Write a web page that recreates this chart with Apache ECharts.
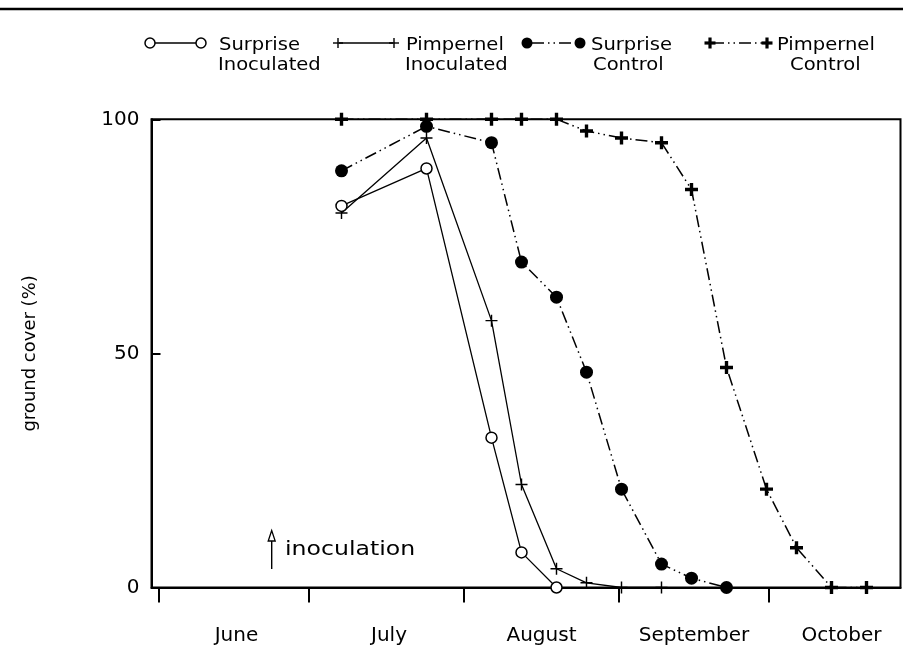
<!DOCTYPE html>
<html>
<head>
<meta charset="utf-8">
<script src="https://cdn.jsdelivr.net/npm/echarts@6/dist/echarts.min.js"></script>
<style>
  html, body { margin: 0; padding: 0; background: #fff; }
  #chart { width: 903px; height: 646px; }
</style>
</head>
<body>
<div id="chart"></div>
<script>
// Sampling dates, in days counted from 1 June
const sampleDays = [36.5, 53.5, 66.5, 72.5, 79.5, 85.5, 92.5, 100.5, 106.5, 113.5, 121.5, 127.5, 134.5, 141.5];

// Ground cover (%) at each sampling date
const surpriseInoculated  = [81.5, 89.5, 32, 7.5, 0];
const pimpernelInoculated = [80, 96, 57, 22, 4, 1, 0, 0];
const surpriseControl     = [89, 98.5, 95, 69.5, 62, 46, 21, 5, 2, 0];
const pimpernelControl    = [100, 100, 100, 100, 100, 97.5, 96, 95, 85, 47, 21, 8.5, 0, 0];

// Month boundaries (ticks) and month label positions, in days from 1 June
const monthStarts = [0, 30, 61, 92, 122];
const monthLabelDays = [15.5, 46, 76.5, 107, 136.5];
const monthNames = ['June', 'July', 'August', 'September', 'October'];

const yTicks = [0, 50, 100];

const FONT = '"DejaVu Sans", sans-serif';
const thinPlus = 'path://M4.4,0h1.2v4.4h4.4v1.2h-4.4v4.4h-1.2v-4.4h-4.4v-1.2h4.4z';
const boldPlus = 'path://M3.7,0h2.6v3.7h3.7v2.6h-3.7v3.7h-2.6v-3.7h-3.7v-2.6h3.7z';
const dashDotDot = [12, 4, 1.5, 4, 1.5, 4];

function pairs(values) {
  return values.map((v, i) => [sampleDays[i], v]);
}

// ---- legend drawn as graphic elements: marker—marker, two-line label ----
function circleKey(cx, cy, filled, r) {
  return { type: 'circle', shape: { cx: cx, cy: cy, r: r },
    style: { fill: filled ? '#000' : '#fff', stroke: '#000', lineWidth: filled ? 0 : 1.5 } };
}
function plusKey(cx, cy, size, thick) {
  return [
    { type: 'rect', shape: { x: cx - size / 2, y: cy - thick / 2, width: size, height: thick }, style: { fill: '#000' } },
    { type: 'rect', shape: { x: cx - thick / 2, y: cy - size / 2, width: thick, height: size }, style: { fill: '#000' } }
  ];
}
function keyLine(x1, x2, y, dash) {
  return { type: 'line', shape: { x1: x1, y1: y, x2: x2, y2: y },
    style: { stroke: '#000', lineWidth: 1.3, lineDash: dash || null } };
}
function label(x, y, text) {
  return { type: 'text', x: x, y: y, scaleX: 1.15,
    style: { text: text, fontSize: 17, fontFamily: FONT, fill: '#000', align: 'left', verticalAlign: 'middle' } };
}

const legendY = 43, row1 = 46, row2 = 66;
const legendEls = [
  circleKey(150, legendY, false, 5), keyLine(155, 196, legendY), circleKey(201, legendY, false, 5),
  label(219, row1, 'Surprise'), label(218, row2, 'Inoculated'),

  ...plusKey(338, legendY, 10, 1.4), keyLine(339, 393, legendY), ...plusKey(394, legendY, 10, 1.4),
  label(406, row1, 'Pimpernel'), label(405, row2, 'Inoculated'),

  circleKey(527, legendY, true, 5.5), keyLine(532, 575, legendY, dashDotDot), circleKey(580, legendY, true, 5.5),
  label(591, row1, 'Surprise'), label(593, row2, 'Control'),

  ...plusKey(710, legendY, 11, 3.2), keyLine(712, 765, legendY, dashDotDot), ...plusKey(767, legendY, 11, 3.2),
  label(777, row1, 'Pimpernel'), label(790, row2, 'Control')
];

// ---- inoculation marker ----
const annotationEls = [
  { type: 'line', shape: { x1: 271.7, y1: 541, x2: 271.7, y2: 569 }, style: { stroke: '#000', lineWidth: 1.4 } },
  { type: 'polygon', shape: { points: [[271.7, 530.5], [268.2, 541], [275.2, 541]] },
    style: { fill: '#fff', stroke: '#000', lineWidth: 1.3 } },
  { type: 'text', x: 285, y: 550, scaleX: 1.18,
    style: { text: 'inoculation', fontSize: 20, fontFamily: FONT, fill: '#000', align: 'left', verticalAlign: 'middle' } }
];

// ---- page rule across the top ----
const ruleEls = [
  { type: 'line', shape: { x1: 0, y1: 9, x2: 903, y2: 9 }, style: { stroke: '#000', lineWidth: 2.5 } }
];

const chart = echarts.init(document.getElementById('chart'), null, { renderer: 'canvas' });

chart.setOption({
  animation: false,
  backgroundColor: '#fff',
  grid: {
    left: 151.5, right: 2.5, top: 119.3, bottom: 58.5,
    show: true, borderColor: '#000', borderWidth: 2, backgroundColor: 'transparent'
  },
  xAxis: {
    type: 'value',
    min: -1.5,
    max: 148.3,
    axisLine: { show: true, onZero: false, lineStyle: { color: '#000', width: 2 } },
    axisTick: { show: true, inside: false, length: 15, customValues: monthStarts, lineStyle: { color: '#000', width: 2 } },
    axisLabel: {
      customValues: monthLabelDays,
      formatter: function (v) {
        const i = monthLabelDays.indexOf(v);
        return i >= 0 ? monthNames[i] : '';
      },
      margin: 38, color: '#000', fontSize: 20, fontFamily: FONT
    },
    splitLine: { show: false }
  },
  yAxis: {
    type: 'value',
    min: yTicks[0],
    max: yTicks[yTicks.length - 1],
    interval: yTicks[1] - yTicks[0],
    name: 'ground cover (%)',
    nameLocation: 'middle',
    nameRotate: 90,
    nameGap: 112,
    nameTextStyle: { color: '#000', fontSize: 18, fontFamily: FONT },
    axisLine: { show: true, onZero: false, lineStyle: { color: '#000', width: 2 } },
    axisTick: { show: true, inside: true, length: 9, lineStyle: { color: '#000', width: 2 } },
    axisLabel: { margin: 12, color: '#000', fontSize: 20, fontFamily: FONT },
    splitLine: { show: false }
  },
  series: [
    {
      name: 'Pimpernel Control', type: 'line', clip: false, z: 2,
      data: pairs(pimpernelControl),
      symbol: boldPlus, symbolSize: 13,
      itemStyle: { color: '#000' },
      lineStyle: { color: '#000', width: 1.5, type: dashDotDot }
    },
    {
      name: 'Surprise Control', type: 'line', clip: false, z: 3,
      data: pairs(surpriseControl),
      symbol: 'circle', symbolSize: 13,
      itemStyle: { color: '#000' },
      lineStyle: { color: '#000', width: 1.5, type: dashDotDot }
    },
    {
      name: 'Pimpernel Inoculated', type: 'line', clip: false, z: 4,
      data: pairs(pimpernelInoculated),
      symbol: thinPlus, symbolSize: 12,
      itemStyle: { color: '#000' },
      lineStyle: { color: '#000', width: 1.3, type: 'solid' }
    },
    {
      name: 'Surprise Inoculated', type: 'line', clip: false, z: 5,
      data: pairs(surpriseInoculated),
      symbol: 'circle', symbolSize: 11,
      itemStyle: { color: '#fff', borderColor: '#000', borderWidth: 1.5 },
      lineStyle: { color: '#000', width: 1.3, type: 'solid' }
    }
  ],
  graphic: [...ruleEls, ...legendEls, ...annotationEls]
});
</script>
</body>
</html>
